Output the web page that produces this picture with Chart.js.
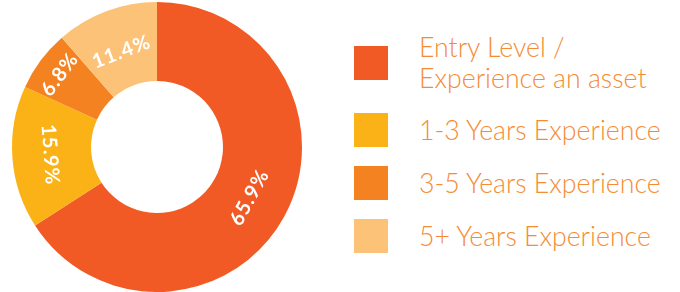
<!DOCTYPE html>
<html>
<head>
<meta charset="utf-8">
<script src="https://cdn.jsdelivr.net/npm/chart.js@4.4.0/dist/chart.umd.min.js"></script>
<style>
    html, body { margin: 0; padding: 0; background: #fff; }
    body { width: 680px; height: 292px; position: relative; overflow: hidden; font-family: Lato, "Open Sans", sans-serif; }
    #wrap { position: absolute; left: 0; top: 2px; width: 314px; height: 290px; }
    #legend { position: absolute; left: 354px; top: 32px; display: flex; flex-direction: column; gap: 19px; }
    .item { display: flex; align-items: center; }
    .box { width: 34px; height: 34px; flex: none; margin-right: 31px; }
    .text { color: #F58C35; font-size: 26.7px; line-height: 31px; font-weight: 300; white-space: nowrap; }
</style>
</head>
<body>
<div id="wrap"><canvas id="donut" width="314" height="290"></canvas></div>
<div id="legend"></div>
<script>
// data
const labels = [
    ['Entry Level /', 'Experience an asset'],
    ['1-3 Years Experience'],
    ['3-5 Years Experience'],
    ['5+ Years Experience']
];
const shares = [65.9, 15.9, 6.8, 11.4];
const colors = ['#F15A25', '#FBB217', '#F58220', '#FBC278'];

// white percentage text, turned to follow the ring
const sliceLabels = {
    id: 'sliceLabels',
    afterDatasetsDraw(chart, args, opts) {
        const ctx = chart.ctx;
        const meta = chart.getDatasetMeta(0);
        ctx.save();
        ctx.fillStyle = '#fff';
        ctx.font = 'bold 20px Lato, "DejaVu Sans", sans-serif';
        ctx.letterSpacing = '1px';
        ctx.textAlign = 'center';
        ctx.textBaseline = 'middle';
        meta.data.forEach(function (arc, i) {
            const p = arc.getProps(['x', 'y', 'startAngle', 'endAngle', 'innerRadius', 'outerRadius'], true);
            const mid = (p.startAngle + p.endAngle) / 2;
            // how far across the ring the text sits (0 = inner edge, 1 = outer edge)
            const f = opts.depth[i];
            const r = p.innerRadius + (p.outerRadius - p.innerRadius) * f;
            let rot = mid - Math.PI / 2;
            // keep text upright
            while (rot > Math.PI / 2) rot -= Math.PI;
            while (rot <= -Math.PI / 2) rot += Math.PI;
            ctx.save();
            ctx.translate(p.x + Math.cos(mid) * r, p.y + Math.sin(mid) * r);
            ctx.rotate(rot);
            ctx.fillText(shares[i].toFixed(1) + '%', 0, 0);
            ctx.restore();
        });
        ctx.restore();
    }
};

new Chart(document.getElementById('donut').getContext('2d'), {
    type: 'doughnut',
    data: {
        labels: labels.map(l => l.join(' ')),
        datasets: [{
            data: shares,
            backgroundColor: colors,
            borderWidth: 0,
            hoverOffset: 0
        }]
    },
    options: {
        responsive: false,
        animation: false,
        events: [],
        cutout: '45.5%',
        layout: { padding: 0 },
        plugins: {
            legend: { display: false },
            tooltip: { enabled: false },
            sliceLabels: { depth: [0.5, 0.52, 0.7, 0.45] }
        }
    },
    plugins: [sliceLabels]
});

// legend built from the same arrays
const legend = document.getElementById('legend');
labels.forEach(function (lines, i) {
    const item = document.createElement('div');
    item.className = 'item';
    const box = document.createElement('div');
    box.className = 'box';
    box.style.background = colors[i];
    const text = document.createElement('div');
    text.className = 'text';
    text.innerHTML = lines.join('<br>');
    item.appendChild(box);
    item.appendChild(text);
    legend.appendChild(item);
});
</script>
</body>
</html>
